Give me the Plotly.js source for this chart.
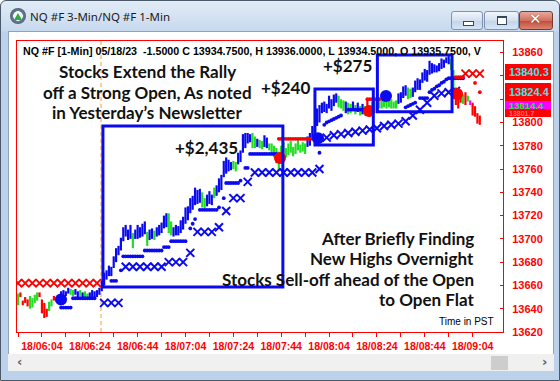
<!DOCTYPE html>
<html><head><meta charset="utf-8">
<script src="https://cdn.plot.ly/plotly-3.0.1.min.js"></script>
<style>
body{margin:0;padding:0;}
#win{position:absolute;left:0;top:0;width:558px;height:379px;border:1px solid #4b5a6b;border-radius:6px 6px 0 0;
 background:linear-gradient(#e3ecf7 0px,#c6d9ee 30px,#bcd2ea 31px,#bcd2ea 100%);overflow:hidden;}
#panel{position:absolute;left:7px;top:30px;width:544px;height:322px;background:#fff;border:1px solid #8ea3bb;}
#scroll{position:absolute;left:7px;top:353px;width:546px;height:17px;background:#f0f0f0;}
#thumb{position:absolute;left:483px;top:2px;width:17px;height:14px;background:#cdcdcd;}
.arr{position:absolute;top:0px;font:bold 13px "DejaVu Sans";color:#606060;}
#icon{position:absolute;left:9px;top:7px;width:16px;height:16px;border-radius:50%;background:radial-gradient(#f4f6f8 40%,#6a7d96 45%,#34465e 100%);}
#tri{position:absolute;left:13px;top:12px;width:0;height:0;border-left:4px solid transparent;border-right:4px solid transparent;border-bottom:7px solid #2fae3a;}
#ttl{position:absolute;left:29px;top:8px;font:11.5px "Noto Sans";color:#1a1a1a;}
.btn{position:absolute;top:10px;height:17px;border:1px solid #7f93ad;border-radius:3px;background:linear-gradient(#f1f5fb,#d3e0f0 50%,#c2d4ea 51%,#d7e4f3);}
#bmin{left:450px;width:30px;}
#bmax{left:483px;width:33px;}
#bcls{left:518px;width:32px;background:linear-gradient(#e9a99c,#d0705f 50%,#c04a36 51%,#d98474);border-color:#7a3a30;}
#minbar{position:absolute;left:11px;top:9px;width:9px;height:3px;background:#fff;border:1px solid #33475f;}
#maxbox{position:absolute;left:12px;top:4px;width:8px;height:6px;border:1px solid #33475f;border-top-width:2px;background:#fff;}
#xx{position:absolute;left:9px;top:-2px;font:bold 15px "DejaVu Sans";color:#fff;text-shadow:0 0 1px #5a2018;}
#plot{position:absolute;left:0;top:0;width:560px;height:381px;}
</style></head>
<body>
<div id="win">
 <div id="icon"></div><div id="tri"></div>
 <div id="ttl">NQ #F 3-Min/NQ #F 1-Min</div>
 <div class="btn" id="bmin"><div id="minbar"></div></div>
 <div class="btn" id="bmax"><div id="maxbox"></div></div>
 <div class="btn" id="bcls"><div id="xx">✕</div></div>
 <div id="panel"></div>
 <div id="scroll"><span class="arr" style="left:9px">‹</span><div id="thumb"></div><span class="arr" style="left:534px">›</span></div>
</div>
<div id="plot"></div>
<script>
// ---- 1-minute bars (minute index relative to 06:00, first bar = 05:54) ----
const firstMinute = -6;
const barHigh = [
13653,13654,13647,13650,13648,13651,13649,13652,13654,13654,
13648,13645,13640,13646,13648,13651,13650,13652,13655,13656,
13655,13658,13657,13656,13657,13655,13656,13654,13655,13653,
13654,13656,13655,13656,13658,13664,13671,13673,13677,13676,
13685,13692,13694,13701,13710,13712,13708,13712,13705,13708,
13712,13710,13713,13715,13706,13708,13709,13707,13710,13712,
13714,13720,13722,13722,13715,13710,13712,13711,13716,13719,
13727,13728,13735,13737,13744,13742,13743,13740,13735,13738,
13741,13738,13744,13746,13752,13755,13767,13770,13768,13766,
13767,13766,13774,13776,13790,13791,13791,13790,13791,13788,
13786,13785,13784,13789,13787,13782,13782,13780,13778,13775,
13780,13783,13778,13782,13784,13779,13782,13785,13781,13783,
13782,13788,13791,13797,13796,13812,13815,13817,13818,13816,
13823,13820,13824,13825,13823,13820,13819,13818,13817,13816,
13818,13815,13817,13814,13816,13814,13820,13813,13818,13820,
13817,13820,13823,13822,13818,13819,13820,13818,13819,13825,
13826,13831,13832,13830,13829,13830,13836,13838,13837,13843,
13846,13845,13853,13851,13850,13849,13851,13855,13854,13856,
13857,13855,13845,13830,13825,13828,13824,13826,13823,13819,
13817,13814,13808,13806];
const barLow = [
13643,13650,13643,13645,13642,13640,13641,13645,13647,13650,
13636,13632,13633,13638,13642,13647,13646,13646,13650,13652,
13651,13653,13652,13651,13652,13650,13651,13650,13649,13649,
13648,13650,13649,13650,13652,13655,13660,13665,13668,13668,
13675,13680,13686,13690,13698,13702,13699,13700,13692,13700,
13700,13701,13702,13704,13694,13699,13700,13699,13702,13703,
13705,13709,13710,13705,13703,13702,13703,13703,13705,13708,
13713,13716,13722,13725,13729,13730,13731,13727,13726,13728,
13730,13729,13735,13737,13740,13742,13753,13756,13758,13759,
13760,13758,13764,13766,13774,13778,13782,13783,13778,13778,
13779,13778,13777,13779,13778,13776,13772,13770,13765,13759,
13768,13772,13770,13772,13774,13771,13773,13776,13774,13775,
13773,13779,13780,13787,13788,13797,13800,13808,13809,13808,
13812,13810,13814,13817,13813,13812,13810,13808,13807,13808,
13810,13807,13809,13806,13807,13806,13806,13805,13808,13808,
13808,13812,13812,13813,13812,13813,13812,13812,13812,13816,
13817,13821,13823,13820,13821,13822,13826,13828,13828,13834,
13836,13835,13841,13842,13843,13843,13844,13846,13847,13851,
13850,13845,13826,13815,13812,13817,13816,13815,13818,13815,
13806,13805,13799,13798];
const barState = (
"GRRRRGGGGR"+"RRRGGRRBBB"+"BBGGBBGBGG"+"BBBBBBBBBB"+"BBBBBBBBGB"+
"BBBBGBBGBB"+"BBBGGBBBBB"+"BBBBBBBGGB"+"BBGBBBBBBB"+"GGBBBBBBGG"+
"BGGBBGGGGG"+"GGGGGGGGGG"+"GBBBBBBBBB"+"BBBBGGGBGG"+"BGBGBGRRGG"+
"GGGGGGGGGB"+"BBBGGBBBBB"+"BBBBBBBBBB"+"BGGRRRGRGM"+"RRRR").split("");

// ---- 1-min trailing stop (blue dots) ----
const blueDotMin = [12,13,14,15,16, 17,18,19,20,21,22,23,24,25,26, 33,34,35, 37,
 38,39,40,41,42,43,44,45,46, 47,48,49,50,51,52,53,54, 55,56,57, 58,59,60,61,62,63,64,
 66,67,68, 70,71,72,73,74,75,76,77,78, 80, 81,82,83,84,85,86, 87, 89,90,
 91,92,93,94,95,96,97,98,99,100,101,102, 120,
 122,123,124,125,126,127,128,129, 132,133,134,135,136,137,138,139,140,141,
 156,157,158,159,160, 162,163,164,165, 166,167,168,169,170,171,172,173, 174,175,176,177,178,179,180];
const blueDotVal = [13641,13641,13641,13641,13641, 13649,13649,13649,13649,13649,13649,13649,13649,13649,13649, 13664,13664,13664, 13673,
 13685,13685,13685,13685,13685,13685,13685,13685,13685, 13690,13690,13690,13690,13690,13690,13690,13690, 13693,13693,13693, 13698,13698,13698,13698,13698,13698,13698,
 13709,13713,13717, 13725,13725,13725,13725,13725,13725,13725,13725,13727, 13735, 13748,13748,13748,13748,13748,13748, 13750, 13761,13761,
 13773,13773,13773,13773,13773,13773,13773,13773,13773,13773,13773,13773, 13774,
 13798,13800,13801,13802,13803,13804,13805,13806, 13811,13811,13811,13811,13811,13811,13811,13811,13811,13811,
 13813,13814,13815,13816,13817, 13821,13821,13821,13821, 13826,13828,13829,13831,13832,13834,13835,13837, 13838,13838,13838,13838,13838,13838,13838];

// ---- 3-min stop (blue X) ----
const blueXMin = [30,33,36, 39,42,45,48,51,54, 57,60,63, 66, 69,72,75, 78, 81, 84,87, 90,
 93,96,99,102,105,108,111,114,117, 120,
 123,126,129,132,135,138,141,144,147,150,153,156,159,162,165,168,171,174,177];
const blueXVal = [13645,13645,13645, 13676,13676,13676,13676,13676,13676, 13680,13680,13680, 13688, 13706,13706,13706, 13710, 13724, 13735,13735, 13749,
 13757,13757,13757,13757,13757,13757,13757,13757,13757, 13760,
 13787,13789,13790,13791,13792,13793,13794,13795,13797,13798,13799,13801,13806,13811,13817,13823,13825,13826,13827];

// ---- short-side stops (red) ----
const redXMin = [-6,-3,0,3,6,9,12,15,18,21,24,27, 181,184,187];
const redXVal = [13662,13662,13662,13662,13662,13662,13662,13662,13662,13662,13662,13662, 13842,13842,13842];
const redDotMin = [103,104,105,106,107,108,109,110,111,112,113,114,115,116,117, 140,141,142,143,144,145, 177,178,179,180, 185,187];
const redDotVal = [13786,13786,13786,13786,13786,13786,13786,13786,13786,13786,13786,13786,13786,13786,13786, 13820,13820,13820,13820,13820,13820, 13839,13839,13839,13839, 13834,13826];

// ---- signals ----
const buySigMin = [12, 119.4, 147.8];
const buySigVal = [13648, 13786.5, 13822.7];
const sellSigMin = [103.5, 140.7, 177.5];
const sellSigVal = [13769.5, 13809.8, 13824.4];

// ---- trade boxes [startMin, endMin, lowPrice, highPrice] ----
const boxStart = [29.5, 118.1, 144.2];
const boxEnd = [104.7, 142.5, 175.4];
const boxLow = [13658.7, 13780.6, 13809.2];
const boxHigh = [13796.9, 13828.7, 13857.9];
const openMinute = 28.7;

// ---- axes ----
const xTickMin = [-6,4,14,24,34,44,54,64,74,84,94,104,114,124,134,144,154,164,174,184];
const xTickText = ["","18/06:04","","18/06:24","","18/06:44","","18/07:04","","18/07:24","","18/07:44","","18/08:04","","18/08:24","","18/08:44","","18/09:04"];
const yTicks = [13620,13640,13660,13680,13700,13720,13740,13760,13780,13800,13820,13840,13860];
// 13820 and 13840 labels are hidden behind the price tags
const yTickText = ["13620","13640","13660","13680","13700","13720","13740","13760","13780","13800","","","13860"];

// ---- price tags ----
const tagText = ["13840.3","13824.4","13801.7","13814.4"];

const colorMap = {B:"#0a0af0", G:"#22dd22", R:"#ff0000", M:"#ff00ff"};
const traces = [];
["G","R","B","M"].forEach(function(c){
  const xs=[], ys=[];
  barState.forEach(function(s,i){
    if(s===c){ xs.push(firstMinute+i, firstMinute+i, null); ys.push(barLow[i], barHigh[i], null); }
  });
  traces.push({x:xs,y:ys,mode:"lines",line:{color:colorMap[c],width:2.2},hoverinfo:"skip",showlegend:false});
});
traces.push({x:blueDotMin,y:blueDotVal,mode:"markers",marker:{symbol:"circle",size:3.8,color:"#0a0af0"},showlegend:false});
traces.push({x:redDotMin,y:redDotVal,mode:"markers",marker:{symbol:"circle",size:3.8,color:"#ff0000"},showlegend:false});
traces.push({x:blueXMin,y:blueXVal,mode:"markers",marker:{symbol:"x-thin",size:8,line:{width:2,color:"#0a0af0"}},showlegend:false});
traces.push({x:redXMin,y:redXVal,mode:"markers",marker:{symbol:"x-thin",size:8,line:{width:2,color:"#ff0000"}},showlegend:false});
traces.push({x:buySigMin,y:buySigVal,mode:"markers",marker:{symbol:"circle",size:12,color:"#0a0af0"},showlegend:false});
traces.push({x:sellSigMin,y:sellSigVal,mode:"markers",marker:{symbol:"circle",size:12,color:"#ff0000"},showlegend:false});

const shapes = [{type:"line",xref:"x",yref:"paper",x0:openMinute,x1:openMinute,y0:0,y1:1,line:{color:"#f5a030",width:1,dash:"4px,3px"},layer:"below"}];
for(let i=0;i<boxStart.length;i++){
  shapes.push({type:"rect",xref:"x",yref:"y",x0:boxStart[i],x1:boxEnd[i],y0:boxLow[i],y1:boxHigh[i],line:{color:"#0a0af0",width:3},fillcolor:"rgba(0,0,0,0)"});
}
// price tag boxes (paper coords, right margin)
const px = v => (v-17)/486, py = v => (332-v)/291;
shapes.push({type:"rect",xref:"paper",yref:"paper",x0:px(505),x1:px(551),y0:py(80),y1:py(64),fillcolor:"#ff0000",line:{width:0},layer:"above"});
shapes.push({type:"rect",xref:"paper",yref:"paper",x0:px(505),x1:px(551),y0:py(117),y1:py(83),fillcolor:"#ff0000",line:{width:0},layer:"above"});
shapes.push({type:"rect",xref:"paper",yref:"paper",x0:px(505),x1:px(551),y0:py(109),y1:py(101),fillcolor:"#ff00ff",line:{width:0},layer:"above"});

const F = "Lato";
function note(t,x,y,xa,size){return {text:"<b>"+t+"</b>",xref:"paper",yref:"paper",x:px(x),y:py(y),xanchor:xa,yanchor:"middle",showarrow:false,font:{family:F,size:size,color:"#111"}};}
function tag(t,y,c,s){return {text:"<b>"+t+"</b>",xref:"paper",yref:"paper",x:px(507),y:py(y),xanchor:"left",yanchor:"middle",showarrow:false,font:{family:"Liberation Sans",size:s,color:c}};}
const annotations = [
 {text:"<b>NQ #F [1-Min] 05/18/23 \u00a0-1.5000 C 13934.7500, H 13936.0000, L 13934.5000, O 13935.7500, V</b>",xref:"paper",yref:"paper",x:px(21),y:py(51),xanchor:"left",yanchor:"middle",showarrow:false,font:{family:"Liberation Sans",size:10.7,color:"#000"}},
 note("Stocks Extend the Rally",147,72,"center",17),
 note("off a Strong Open, As noted",147,92,"center",17),
 note("in Yesterday\u2019s Newsletter",147,112,"center",17),
 note("+$2,435",206,147,"center",17),
 note("+$240",285,87,"center",17),
 note("+$275",347,65,"center",17),
 note("After Briefly Finding",476,238,"right",17),
 note("New Highs Overnight",476,258,"right",17),
 note("Stocks Sell-off ahead of the Open",476,279,"right",17),
 note("to Open Flat",476,299,"right",17),
 {text:"Time in PST",xref:"paper",yref:"paper",x:px(496),y:py(321),xanchor:"right",yanchor:"middle",showarrow:false,font:{family:"Liberation Sans",size:10,color:"#000"}},
 tag(tagText[0],72,"#38e8f0",11),
 tag(tagText[1],91.5,"#38e8f0",11),
 tag(tagText[2],113.2,"#ff7070",7),
 tag(tagText[3],105,"#22ee22",9.5)
];

const layout = {
  width:560,height:381,
  margin:{l:17,r:57,t:41,b:49,pad:0},
  paper_bgcolor:"rgba(0,0,0,0)",plot_bgcolor:"#ffffff",
  showlegend:false,
  xaxis:{range:[-6.42,196.7],tickmode:"array",tickvals:xTickMin,ticktext:xTickText,ticks:"outside",ticklen:4,tickcolor:"#ff0000",
    showline:true,linecolor:"#ff0000",linewidth:1,mirror:true,showgrid:false,zeroline:false,
    tickfont:{family:"Liberation Sans",size:10.5,color:"#ff0000",weight:"bold"},fixedrange:true},
  yaxis:{side:"right",range:[13620,13870],tickmode:"array",tickvals:yTicks,ticktext:yTickText,ticks:"inside",ticklen:3,tickcolor:"#ff0000",
    showline:true,linecolor:"#ff0000",linewidth:1,mirror:true,showgrid:false,zeroline:false,ticklabelstandoff:6,
    tickfont:{family:"Liberation Sans",size:11,color:"#ff0000",weight:"bold"},fixedrange:true},
  shapes:shapes,annotations:annotations
};
Plotly.newPlot("plot",traces,layout,{displayModeBar:false,staticPlot:true});
</script>
</body></html>
